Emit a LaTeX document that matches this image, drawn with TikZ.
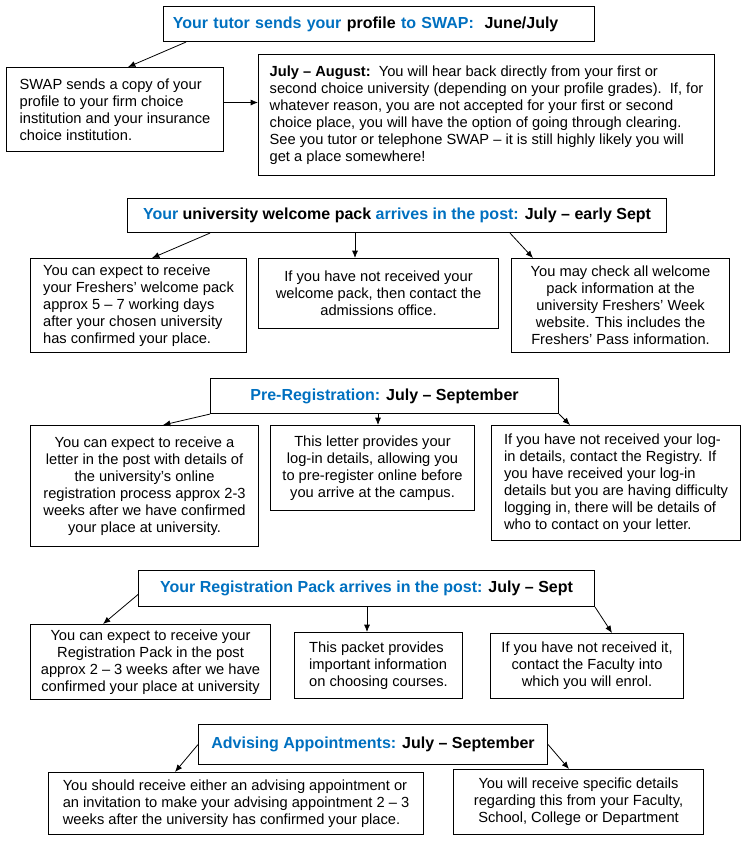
\documentclass[tikz,border=0pt]{standalone}
\usepackage{fontspec}
\setmainfont{Liberation Sans}
\usetikzlibrary{arrows.meta}
\definecolor{swapblue}{RGB}{0,112,192}
\tikzset{
  box/.style={draw, line width=0.8pt, anchor=north west, inner sep=4pt,
    font=\fontsize{11}{12.75}\selectfont},
  titlebox/.style={box, align=center, font=\fontsize{12}{14}\selectfont\bfseries},
  arr/.style={-{Latex[length=5.5pt,width=4.5pt]}, line width=0.6pt}
}
\newcommand{\bl}[1]{\textcolor{swapblue}{#1}}

\begin{document}
\begin{tikzpicture}[x=0.75pt, y=-0.75pt]
        \useasboundingbox (0,0) rectangle (751,854);
        % Profil envoyé
        \node[titlebox, align=left, inner xsep=7pt, text width=309.25pt, minimum height=26.25pt] (t1) at (163,6)
          {\bl{Your tutor sends your} profile \bl{to SWAP:}\ \ June/July};
        \node[box, align=left, minimum width=162.75pt, minimum height=63pt] (swap) at (6,67)
          {SWAP sends a copy of your\\profile to your firm choice\\institution and your insurance\\choice institution.};
        \node[box, align=left, minimum width=342pt, minimum height=90.75pt] (jul) at (258,54)
          {\textbf{July – August:}\ \ You will hear back directly from your first or\\
           second choice university (depending on your profile grades).\ \ If, for\\
           whatever reason,\ you are not accepted for your first or second\\
           choice place, you will have the option of going through clearing.\\
           See you tutor or telephone\ SWAP – it is still highly likely you will\\
           get a place somewhere!};
        \draw[arr] ([xshift=17.25pt]t1.south west) -- ([xshift=91.5pt]swap.north west);
        \draw[arr] ([yshift=5.25pt]swap.east) -- ([yshift=9.4pt]jul.west);
        % Welcome pack
        \node[titlebox, minimum width=404.25pt, minimum height=25.5pt] (t2) at (127,198)
          {\bl{Your} university welcome pack \bl{arrives in the post:} July – early Sept};
        \node[box, align=left, minimum width=162pt, minimum height=70.5pt] (w1) at (30,258)
          {You can expect to receive\\your Freshers’ welcome pack\\approx 5 – 7 working days\\after your chosen university\\has confirmed your place.};
        \node[box, align=center, minimum width=180pt, minimum height=52.5pt] (w2) at (258,258)
          {If you have not received your\\welcome pack, then contact the\\admissions office.};
        \node[box, align=center, minimum width=163.5pt, minimum height=70.5pt] (w3) at (511,258)
          {You may check all welcome\\pack information at the\\university Freshers’ Week\\website. This includes the\\Freshers’ Pass information.};
        \draw[arr] ([xshift=62.25pt]t2.south west) -- ([xshift=91.5pt]w1.north west);
        \draw[arr] ([xshift=171pt]t2.south west) -- ([xshift=72.75pt]w2.north west);
        \draw[arr] ([xshift=287.25pt]t2.south west) -- ([xshift=16.5pt]w3.north west);
        % Pre-registration
        \node[titlebox, minimum width=261pt, minimum height=26.25pt] (t3) at (210,378)
          {\bl{Pre-Registration:} July – September};
        \node[box, align=center, minimum width=171pt, minimum height=90.75pt] (p1) at (30,425)
          {You can expect to receive a\\letter in the post with details of\\the university’s online\\registration process approx 2-3\\weeks after we have confirmed\\your place at university.};
        \node[box, align=center, minimum width=153pt, minimum height=63.75pt] (p2) at (270,425)
          {This letter provides your\\log-in details,\ allowing you\\to pre-register online before\\you arrive at the campus.};
        \node[box, align=left, minimum width=186.75pt, minimum height=86.25pt] (p3) at (491,425)
          {If you have not received your log-\\in details,\ contact the Registry. If\\you have received your log-in\\details but you are having difficulty\\logging in, there will be details of\\who to contact on your letter.};
        \draw[arr] (t3.south west) -- ([xshift=99.75pt]p1.north west);
        \draw[arr] ([xshift=126pt]t3.south west) -- ([xshift=81pt]p2.north west);
        \draw[arr] (t3.south east) -- ([xshift=59.25pt]p3.north west);
        % Registration pack
        \node[titlebox, minimum width=342pt, minimum height=27pt] (t4) at (138,570)
          {\bl{Your Registration Pack arrives in the post:} July – Sept};
        \node[box, align=center, minimum width=180pt, minimum height=56.25pt] (r1) at (30,624)
          {You can expect to receive your\\Registration Pack in the post\\approx 2 – 3 weeks after we have\\confirmed your place at university};
        \node[box, align=left, minimum width=126pt, minimum height=49.5pt] (r2) at (294,632)
          {This packet provides\\important information\\on choosing courses.};
        \node[box, align=center, minimum width=144.75pt, minimum height=48.75pt] (r3) at (490,633)
          {If you have not received it,\\contact the Faculty into\\which you will enrol.};
        \draw[arr] ([yshift=-4.5pt]t4.west) -- ([xshift=54.75pt]r1.north west);
        \draw[arr] ([xshift=171.75pt]t4.south west) -- ([xshift=54.75pt]r2.north west);
        \draw[arr] (t4.south east) -- ([xshift=91.5pt]r3.north west);
        % Advising
        \node[titlebox, minimum width=261.75pt, minimum height=30pt] (t5) at (198,724)
          {\bl{Advising Appointments:} July – September};
        \node[box, align=left, minimum width=281.25pt, minimum height=46.5pt] (a1) at (48,772)
          {You should receive either an advising appointment or\\an invitation to make your advising appointment 2 – 3\\weeks after the university has confirmed your place.};
        \node[box, align=center, minimum width=187.5pt, minimum height=48.75pt] (a2) at (453,769)
          {You will receive specific details\\regarding this from your Faculty,\\School, College or Department};
        \draw[arr] (t5.west) -- ([xshift=95.25pt]a1.north west);
        \draw[arr] (t5.east) -- ([xshift=87pt]a2.north west);
    \end{tikzpicture}
\end{document}
